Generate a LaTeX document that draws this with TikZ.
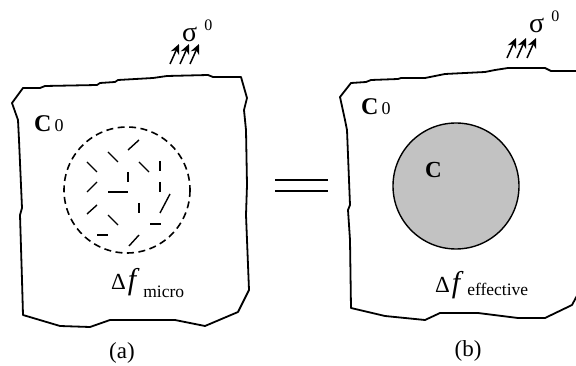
\documentclass[tikz,border=0pt]{standalone}
\usepackage{fontspec}
\setmainfont{Liberation Serif}
\usetikzlibrary{arrows.meta,positioning}
\definecolor{grisgrano}{rgb}{0.76,0.76,0.76}
\newcommand{\tam}[1]{\fontsize{#1}{#1}\selectfont}
\tikzset{
  borde/.style={
    line width=1.8pt,
    line join=round
  },
  hueco/.style={
    line width=1.6pt,
    dash pattern=on 7pt off 4.5pt
  },
  grieta/.style={
    line width=1.4pt
  },
  inclusion/.style={
    line width=1.4pt,
    fill=grisgrano
  },
  carga/.style={
    -{Stealth[length=10pt,width=9pt]},
    line width=1.5pt
  },
  rotulo/.style={
    inner sep=0pt,
    anchor=base west
  },
  igual/.style={
    line width=2.2pt
  }
}

\begin{document}
\begin{tikzpicture}[x=1pt,y=-1pt]
\useasboundingbox (0,0) rectangle (576,366);
% placa (a)
\draw[borde] (12,103) -- (23,88) -- (40,88) -- (45,86) -- (97,85) -- (100,83)
  -- (115,82) -- (118,80) -- (153,78) -- (167,76) -- (208,75) -- (213,77)
  -- (241,77) -- (247,98) -- (244,110) -- (246,130) -- (247,185)
  -- (246,215) -- (249,290) -- (238,312) -- (205,326) -- (175,320)
  -- (110,320) -- (90,327) -- (60,326) -- (23,315) -- (22,280)
  -- (20,215) -- (22,208) -- (19,140) -- (18,120) -- cycle;
\draw[hueco] (127,190) circle[radius=63];
\foreach \xa/\ya/\xb/\yb in {128/150/139/140, 108/152/118/162, 87/162/97/172,
    139/162/149/172, 128/172/128/182, 160/161/160/171, 87/192/97/182,
    108/192/128/192, 160/182/160/192, 139/203/139/213, 160/213/170/194,
    87/214/97/205, 108/215/118/225, 150/224/161/224, 97/235/108/235,
    129/246/139/235}
  \draw[grieta] (\xa,\ya) -- (\xb,\yb);
\foreach \i in {0,1,2}
  \draw[carga] (170+10*\i,64) -- ++(9,-20);
\node[rotulo] (sigmaA) at (182,42) {\tam{28}σ\hspace{7pt}\raisebox{11pt}{\tam{16}0}};
\node[rotulo] (rigidezA) at (34,132) {\tam{24}\textbf{C}\hspace{3pt}{\tam{18}0}};
\node[rotulo] (deltaA) at (111,290) {\tam{23}Δ\hspace{2pt}{\tam{30}\itshape f}\hspace{7pt}\raisebox{-8pt}{\tam{17.5}micro}};
\node[inner sep=0pt,anchor=base] (etiqA) at (122,358) {\tam{23}(a)};
% igual
\draw[igual] (275,180) -- (328,180);
\draw[igual] (275,191) -- (328,191);
% placa (b)
\draw[borde] (340,97) -- (351,83) -- (366,82) -- (371,80) -- (398,79)
  -- (401,78) -- (425,78) -- (435,76) -- (445,74) -- (485,72) -- (495,70)
  -- (508,68) -- (545,68) -- (551,71) -- (580,71) -- (580,290)
  -- (572,305) -- (545,318) -- (518,318) -- (478,313) -- (440,313)
  -- (425,320) -- (385,316) -- (351,308) -- (350,240) -- (348,210)
  -- (350,205) -- (347,130) -- (345,120) -- cycle;
\draw[inclusion] (456,186) circle[radius=63];
\foreach \i in {0,1,2}
  \draw[carga] (507+10*\i,58) -- ++(9,-20);
\node[rotulo] (sigmaB) at (529,33) {\tam{28}σ\hspace{7pt}\raisebox{11pt}{\tam{16}0}};
\node[rotulo] (rigidezB) at (361,115) {\tam{24}\textbf{C}\hspace{3pt}{\tam{18}0}};
\node[rotulo] (inclB) at (425,178) {\tam{23}\textbf{C}};
\node[rotulo] (deltaB) at (435,293) {\tam{23}Δ\hspace{2pt}{\tam{30}\itshape f}\hspace{7pt}\raisebox{-3pt}{\tam{17.5}effective}};
\node[inner sep=0pt,anchor=base] (etiqB) at (468,356) {\tam{23}(b)};
\end{tikzpicture}
\end{document}
